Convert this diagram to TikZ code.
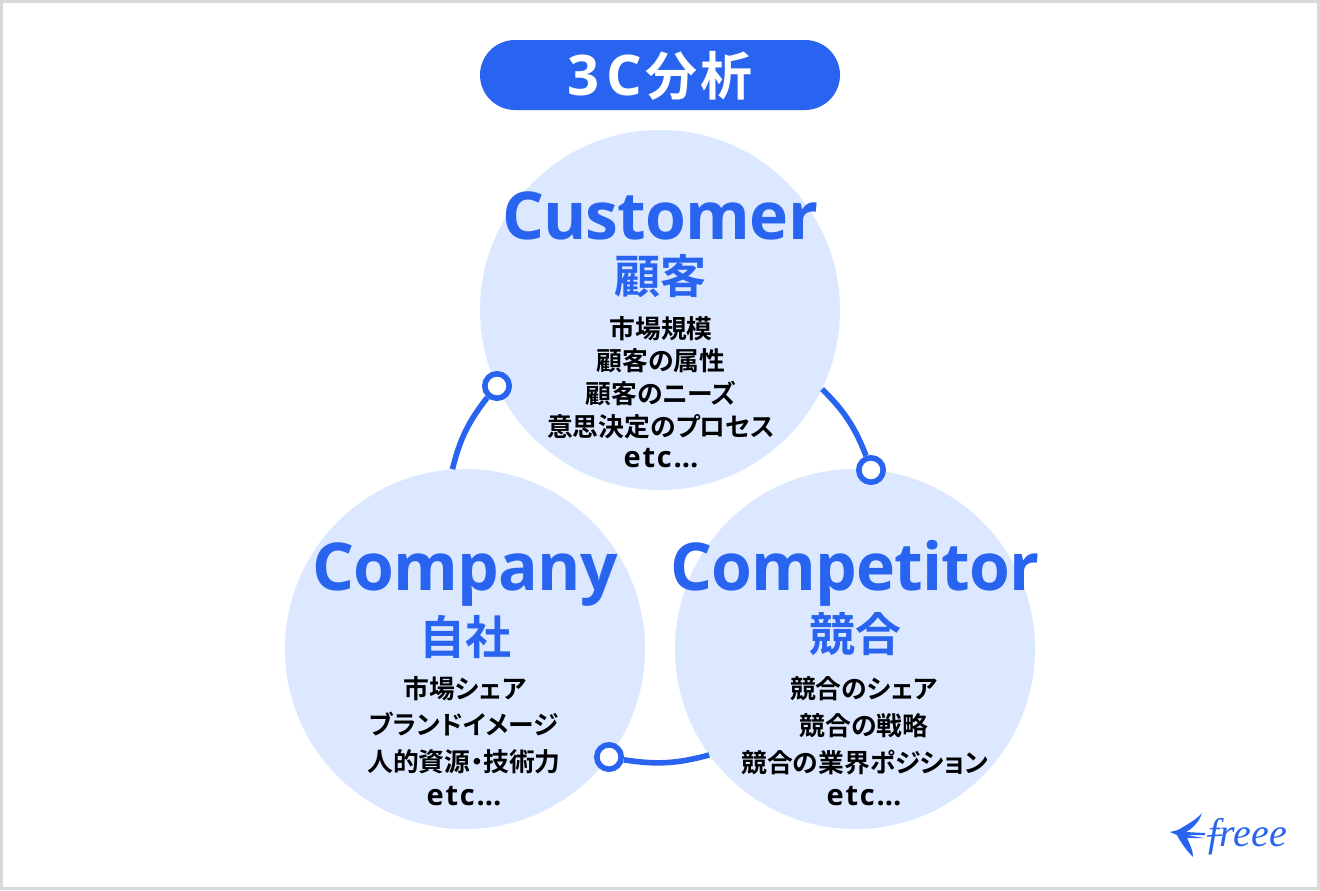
\documentclass[tikz,border=0pt]{standalone}
\usepackage{fontspec}
\setmainfont{Noto Sans CJK JP}[BoldFont={Noto Sans CJK JP Bold}]
\newfontfamily\latinfont{Open Sans}
\newfontfamily\logofont{Liberation Serif}
\definecolor{brandblue}{HTML}{2864F0}
\definecolor{paleblue}{HTML}{DCE8FF}
\definecolor{framegrey}{HTML}{D9D9D9}
\newcommand{\psize}[1]{\fontsize{\dimexpr#1pt*3/4\relax}{\dimexpr#1pt*3/4\relax}\selectfont}
\tikzset{
  x=0.75pt,y=-0.75pt,
  bigcircle/.style={circle,fill=paleblue,minimum size=270pt,inner sep=0pt},
  ringnode/.style={circle,draw=brandblue,line width=4.2pt,fill=white,minimum size=18.3pt,inner sep=0pt},
  linkline/.style={draw=brandblue,line width=4.2pt},
  headtext/.style={anchor=base,text=brandblue,font=\latinfont\bfseries\psize{66}\addfontfeature{LetterSpace=-1.2},inner sep=0pt},
  jptext/.style={anchor=base,text=brandblue,font=\bfseries\psize{46},inner sep=0pt},
  itemtext/.style={anchor=base,text=black,font=\bfseries\psize{25.8}\addfontfeature{RawFeature=+palt},inner sep=0pt},
  etctext/.style={anchor=base,text=black,font=\latinfont\bfseries\psize{29}\addfontfeature{LetterSpace=6},inner sep=0pt},
}
\begin{document}
\begin{tikzpicture}
\useasboundingbox (0,0) rectangle (1320,890);
\fill[white] (0,0) rectangle (1320,890);
\draw[framegrey,line width=2.25pt] (1.5,1.5) rectangle (1318.5,888.5);
% title
\node[fill=brandblue,rounded corners=26.25pt,minimum width=270pt,minimum height=52.5pt,inner sep=0pt] (titlepill) at (660,75) {};
\node[anchor=base,text=white,font=\bfseries\psize{52},inner sep=0pt] (titletext) at (660,95) {{\latinfont\psize{56}\addfontfeature{LetterSpace=12}3C}\hspace{3pt}\addfontfeature{LetterSpace=5}分析};
% circles
\node[bigcircle] (customer) at (660,310) {};
\node[bigcircle] (company) at (465,649) {};
\node[bigcircle] (competitor) at (855,649) {};
% rings
\node[ringnode] (ringa) at (497,386) {};
\node[ringnode] (ringb) at (871,470) {};
\node[ringnode] (ringc) at (609,757) {};
% connectors
\draw[linkline] (company.94) to[bend left=12] (ringa);
\draw[linkline] (customer.334.4) to[bend left=12] (ringb);
\draw[linkline] (competitor.216.4) to[bend left=12] (ringc);
% customer
\node[headtext] (h1) at (660,239) {Customer};
\node[jptext] (j1) at (660,293) {顧客};
\node[itemtext] (c1) at (661,338) {市場規模};
\node[itemtext] (c2) at (661,370) {顧客の属性};
\node[itemtext] (c3) at (661,403) {顧客のニーズ};
\node[itemtext] (c4) at (661,436) {意思決定のプロセス};
\node[etctext] (c5) at (661,467) {etc…};
% company
\node[headtext] (h2) at (465,590) {Company};
\node[jptext] (j2) at (465,654) {自社};
\node[itemtext] (d1) at (465,698) {市場シェア};
\node[itemtext] (d2) at (464,734) {ブランドイメージ};
\node[itemtext] (d3) at (464,771) {人的資源・技術力};
\node[etctext] (d4) at (464,805) {etc…};
% competitor
\node[headtext] (h3) at (855,590) {Competitor};
\node[jptext] (j3) at (855,651) {競合};
\node[itemtext] (e1) at (864,698) {競合のシェア};
\node[itemtext] (e2) at (864,735) {競合の戦略};
\node[itemtext] (e3) at (865,772) {競合の業界ポジション};
\node[etctext] (e4) at (864,805) {etc…};
% logo
\fill[brandblue] (1170,832) -- (1178,830) .. controls (1186,825) and (1196,820) .. (1202,813)
  .. controls (1199,822) and (1193,828) .. (1186,832) -- (1205,833) -- (1205,835) -- (1186,835)
  -- (1204,838) -- (1187,838) .. controls (1190,845) and (1193,850) .. (1193,857)
  .. controls (1187,851) and (1181,843) .. (1177,835) -- cycle;
\draw[brandblue,line width=1.1pt] (1207,836) -- (1222,835);
\node[anchor=base,text=brandblue,font=\logofont\itshape\psize{40},inner sep=0pt] (logotext) at (1248,846) {freee};
\end{tikzpicture}
\end{document}
